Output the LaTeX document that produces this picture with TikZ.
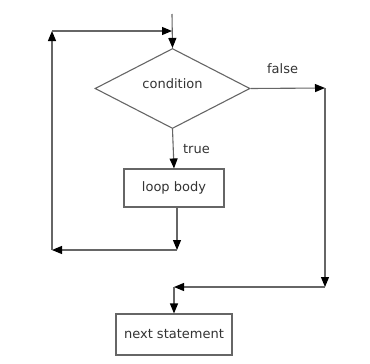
\documentclass[tikz,border=0pt]{standalone}
\usepackage{fontspec}
\setmainfont{DejaVu Sans}
\usepackage{tikz}
\usetikzlibrary{positioning, shapes, arrows.meta, shapes.geometric, calc}
\tikzset{>={Triangle[length=10pt,width=8pt,color=black]}}
\tikzset{
    test/.style = {diamond, draw, line width=1.1pt, inner sep=0pt, minimum width=155pt,
                        minimum height=80pt, text height=9pt, text depth=10pt},
    action/.style = {rectangle, draw, line width=1.1pt, fill=white, align=center},
    flow/.style = {->, line width=1.1pt}
}

\begin{document}
\begin{tikzpicture}[x=1pt,y=-1pt]
			\tikzstyle{every node}=[font=\fontsize{13}{15}\selectfont, text=black!80]
			\useasboundingbox (0,0) rectangle (370,364);
			\begin{scope}[draw=black!60]
			\coordinate (start) at (172,14);
			\node (cond) [test] at (172.5,88.5) {condition};
			\node (body) [action, minimum width=100pt, minimum height=38pt] at (174,188) {loop body};
			\node (next) [action, minimum width=116pt, minimum height=41pt] at (174,334.5) {next statement};
			\coordinate (bodyout) at (177,250);
			\coordinate (backbot) at (52,250);
			\coordinate (backtop) at (52,31);
			\coordinate (fturn) at (325,88);
			\coordinate (fbot) at (325,287);
			\coordinate (join) at (174,287);
			% entry and true branch
			\draw [flow] (start) to (cond.north);
			\draw [flow] (cond.south) to node[right,xshift=6pt] {true} (body.north);
			% loop back
			\draw [flow] (body.south -| bodyout) to (bodyout);
			\draw [flow] (bodyout) to (backbot);
			\draw [flow] (backbot) to (backtop);
			\draw [flow] (backtop) to (start |- backtop);
			% false branch
			\draw [flow] (cond.east) to node[pos=0.43,yshift=20pt] {false} (fturn);
			\draw [flow] (fturn) to (fbot);
			\draw [flow] (fbot) to (join);
			\draw [flow] (join) to (next.north);
			\end{scope}
		\end{tikzpicture}
\end{document}
